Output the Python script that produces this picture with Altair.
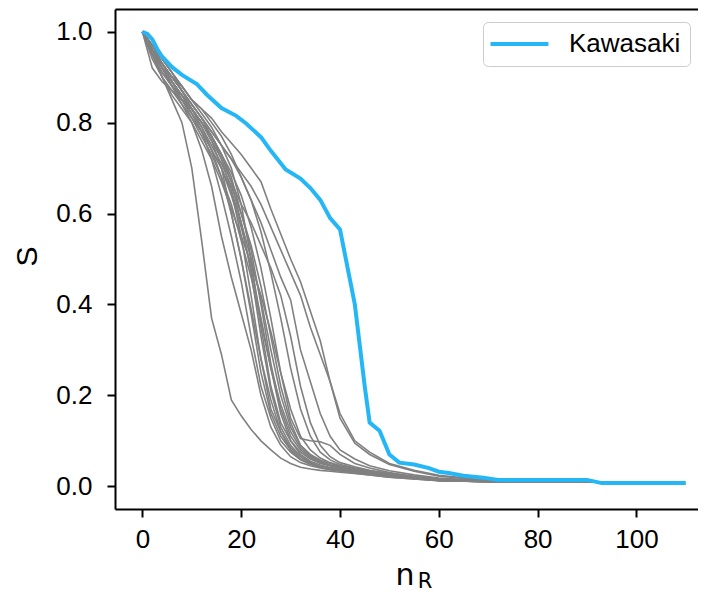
import altair as alt
import pandas as pd

# ---------------- data ----------------
KAW_X = [0, 1, 2, 3, 4, 6, 8, 11, 13, 16, 19, 21, 24, 26, 29, 32, 34, 36, 38, 40,
         42, 43, 44, 45, 46, 48, 50, 52, 55, 58, 60, 62, 65, 69, 72, 90, 93, 110]
KAW_S = [1.0, 0.995, 0.983, 0.962, 0.945, 0.922, 0.905, 0.885, 0.862, 0.832,
         0.815, 0.798, 0.768, 0.738, 0.697, 0.677, 0.656, 0.63, 0.59, 0.565,
         0.455, 0.40, 0.31, 0.22, 0.14, 0.122, 0.07, 0.052, 0.048, 0.04,
         0.032, 0.029, 0.023, 0.019, 0.014, 0.014, 0.007, 0.007]

GRID_X = [0, 2, 4, 6, 8, 10, 12, 14, 16, 18, 20, 22, 24, 26, 28, 30, 32, 34, 36, 38,
          40, 43, 46, 50, 55, 60, 70, 92]

G_A = [1.0, 0.95, 0.90, 0.85, 0.80, 0.70, 0.54, 0.37, 0.29, 0.19, 0.155, 0.125, 0.10, 0.08,
       0.062, 0.05, 0.042, 0.038, 0.035, 0.033, 0.031, 0.028, 0.025, 0.02, 0.016, 0.012, 0.01, 0.009]
G_B = [1.0, 0.96, 0.92, 0.88, 0.84, 0.80, 0.74, 0.66, 0.55, 0.46, 0.38, 0.30, 0.20, 0.13,
       0.09, 0.065, 0.052, 0.045, 0.04, 0.036, 0.033, 0.029, 0.025, 0.02, 0.016, 0.012, 0.01, 0.009]
G_C = [1.0, 0.97, 0.93, 0.89, 0.85, 0.82, 0.78, 0.72, 0.64, 0.55, 0.45, 0.33, 0.22, 0.15,
       0.10, 0.075, 0.058, 0.048, 0.042, 0.038, 0.035, 0.031, 0.027, 0.022, 0.017, 0.013, 0.01, 0.009]
G_D = [1.0, 0.95, 0.91, 0.88, 0.86, 0.83, 0.80, 0.76, 0.70, 0.60, 0.50, 0.38, 0.25, 0.16,
       0.11, 0.08, 0.06, 0.05, 0.044, 0.04, 0.036, 0.032, 0.028, 0.023, 0.018, 0.014, 0.011, 0.009]
G_E = [1.0, 0.96, 0.93, 0.90, 0.87, 0.84, 0.81, 0.77, 0.72, 0.65, 0.55, 0.42, 0.28, 0.17,
       0.12, 0.085, 0.065, 0.052, 0.045, 0.04, 0.037, 0.033, 0.029, 0.024, 0.019, 0.014, 0.011, 0.009]
G_F = [1.0, 0.97, 0.94, 0.91, 0.88, 0.85, 0.82, 0.79, 0.75, 0.70, 0.62, 0.50, 0.35, 0.22,
       0.14, 0.10, 0.075, 0.06, 0.05, 0.045, 0.04, 0.035, 0.03, 0.025, 0.019, 0.014, 0.011, 0.009]
G_G = [1.0, 0.96, 0.92, 0.89, 0.86, 0.83, 0.80, 0.77, 0.73, 0.68, 0.60, 0.52, 0.40, 0.27,
       0.17, 0.11, 0.08, 0.062, 0.052, 0.046, 0.041, 0.036, 0.031, 0.026, 0.02, 0.015, 0.011, 0.009]
G_H = [1.0, 0.95, 0.91, 0.88, 0.85, 0.82, 0.79, 0.75, 0.71, 0.66, 0.60, 0.53, 0.44, 0.33,
       0.22, 0.14, 0.09, 0.068, 0.055, 0.047, 0.042, 0.037, 0.032, 0.026, 0.02, 0.015, 0.011, 0.009]
G_I = [1.0, 0.97, 0.93, 0.90, 0.87, 0.84, 0.81, 0.78, 0.75, 0.72, 0.68, 0.63, 0.56, 0.47,
       0.37, 0.26, 0.17, 0.11, 0.075, 0.058, 0.048, 0.04, 0.034, 0.027, 0.021, 0.016, 0.012, 0.009]
G_J = [1.0, 0.96, 0.92, 0.88, 0.85, 0.81, 0.77, 0.73, 0.68, 0.62, 0.54, 0.46, 0.36, 0.26,
       0.18, 0.12, 0.085, 0.065, 0.053, 0.046, 0.041, 0.036, 0.031, 0.025, 0.019, 0.014, 0.011, 0.009]
G_K = [1.0, 0.96, 0.93, 0.90, 0.88, 0.85, 0.83, 0.80, 0.77, 0.73, 0.68, 0.63, 0.58, 0.52,
       0.46, 0.41, 0.30, 0.23, 0.16, 0.11, 0.08, 0.06, 0.045, 0.034, 0.025, 0.018, 0.012, 0.009]
G_L = [1.0, 0.95, 0.90, 0.86, 0.83, 0.80, 0.76, 0.72, 0.67, 0.61, 0.55, 0.49, 0.42, 0.34,
       0.25, 0.17, 0.11, 0.08, 0.062, 0.052, 0.045, 0.039, 0.033, 0.027, 0.021, 0.015, 0.011, 0.009]
G_M = [1.0, 0.97, 0.94, 0.91, 0.88, 0.85, 0.83, 0.81, 0.78, 0.755, 0.73, 0.70, 0.67, 0.61,
       0.555, 0.50, 0.45, 0.385, 0.32, 0.23, 0.15, 0.095, 0.07, 0.048, 0.033, 0.022, 0.013, 0.01]
G_N = [1.0, 0.96, 0.93, 0.90, 0.87, 0.84, 0.81, 0.78, 0.75, 0.72, 0.69, 0.66, 0.62, 0.57,
       0.52, 0.47, 0.42, 0.35, 0.29, 0.23, 0.16, 0.10, 0.075, 0.05, 0.035, 0.024, 0.013, 0.01]
G_O = [1.0, 0.96, 0.92, 0.89, 0.86, 0.83, 0.80, 0.77, 0.73, 0.69, 0.64, 0.57, 0.48, 0.37,
       0.25, 0.15, 0.105, 0.10, 0.098, 0.09, 0.07, 0.05, 0.04, 0.03, 0.022, 0.016, 0.012, 0.009]
G_P = [1.0, 0.94, 0.90, 0.87, 0.84, 0.81, 0.78, 0.74, 0.70, 0.64, 0.57, 0.48, 0.37, 0.26,
       0.16, 0.10, 0.07, 0.055, 0.046, 0.04, 0.036, 0.032, 0.028, 0.023, 0.018, 0.013, 0.01, 0.009]
G_Q = [1.0, 0.92, 0.89, 0.87, 0.85, 0.83, 0.80, 0.77, 0.73, 0.67, 0.58, 0.47, 0.33, 0.21,
       0.13, 0.09, 0.066, 0.053, 0.046, 0.041, 0.037, 0.033, 0.029, 0.023, 0.018, 0.013, 0.01, 0.009]
G_R = [1.0, 0.97, 0.94, 0.91, 0.87, 0.83, 0.79, 0.74, 0.68, 0.60, 0.50, 0.39, 0.28, 0.19,
       0.12, 0.08, 0.06, 0.05, 0.044, 0.04, 0.036, 0.032, 0.028, 0.022, 0.017, 0.013, 0.01, 0.009]
G_S = [1.0, 0.96, 0.92, 0.89, 0.86, 0.83, 0.80, 0.76, 0.72, 0.67, 0.62, 0.58, 0.53, 0.48,
       0.42, 0.33, 0.22, 0.14, 0.09, 0.065, 0.052, 0.043, 0.035, 0.028, 0.021, 0.015, 0.011, 0.009]
G_T = [1.0, 0.95, 0.92, 0.89, 0.86, 0.82, 0.78, 0.74, 0.70, 0.65, 0.58, 0.50, 0.41, 0.30,
       0.20, 0.13, 0.09, 0.07, 0.058, 0.05, 0.044, 0.038, 0.032, 0.026, 0.02, 0.015, 0.011, 0.009]

GRAY_CURVES = [G_A, G_B, G_C, G_D, G_E, G_F, G_G, G_H, G_I, G_J,
               G_K, G_L, G_M, G_N, G_O, G_P, G_Q, G_R, G_S, G_T]

X_TICKS = [0, 20, 40, 60, 80, 100]
Y_TICKS = [0.0, 0.2, 0.4, 0.6, 0.8, 1.0]

BLUE = "#25b6f6"
GRAY = "#808080"
FONT = "Liberation Sans"

# ---------------- tables ----------------
rows = []
for i, curve in enumerate(GRAY_CURVES):
    for x, s in zip(GRID_X, curve):
        rows.append({"x": x, "S": s, "curve": f"g{i}"})
gray_df = pd.DataFrame(rows)
kaw_df = pd.DataFrame({"x": KAW_X, "S": KAW_S, "series": "Kawasaki"})

W, H = 583, 500
xscale = alt.Scale(domain=[-5.55, 112.47], nice=False, zero=False)
yscale = alt.Scale(domain=[-0.05, 1.05], nice=False, zero=False)

xaxis = alt.Axis(values=X_TICKS, format="d", title="n", grid=False,
                 titleFont="DejaVu Sans", titleFontSize=30, titleFontWeight="normal",
                 titleX=289.5, titleY=75, titleAlign="center", titleBaseline="alphabetic",
                 labelPadding=9)
yaxis = alt.Axis(values=Y_TICKS, format=".1f", title="S", grid=False,
                 titleFont=FONT, titleFontSize=30, titleFontWeight="normal",
                 titleX=-79, titleY=247, titleAlign="center", titleBaseline="alphabetic",
                 titleAngle=270, labelPadding=15)

gray = alt.Chart(gray_df).mark_line(strokeWidth=1.6, color=GRAY).encode(
    x=alt.X("x:Q", scale=xscale, axis=xaxis),
    y=alt.Y("S:Q", scale=yscale, axis=yaxis),
    detail="curve:N",
)

blue = alt.Chart(kaw_df).mark_line(strokeWidth=4).encode(
    x=alt.X("x:Q", scale=xscale,
            axis=alt.Axis(orient="top", labels=False, ticks=False, title=None,
                          grid=False, domainColor="black", domainWidth=2)),
    y=alt.Y("S:Q", scale=yscale),
    color=alt.Color("series:N",
                    scale=alt.Scale(domain=["Kawasaki"], range=[BLUE]),
                    legend=alt.Legend(title=None, orient="none", legendX=368, legendY=13,
                                      symbolType="M-2.5,0L7.5,0", symbolSize=134,
                                      symbolStrokeWidth=4, symbolFillColor="transparent",
                                      labelFontSize=26, labelFont=FONT, labelOffset=51,
                                      padding=9, strokeColor="#cccccc",
                                      cornerRadius=5, fillColor="white",
                                      labelColor="black")),
)

sub = alt.Chart(pd.DataFrame({"t": ["R"]})).mark_text(
    font="DejaVu Sans", fontSize=21, align="left", baseline="alphabetic", color="black"
).encode(x=alt.value(302.7), y=alt.value(578.5), text="t:N")

chart = (
    alt.layer(gray, blue, sub)
    .resolve_axis(x="independent")
    .properties(width=W, height=H, autosize=alt.AutoSizeParams(type="none"),
                padding={"left": 107, "top": 1, "right": 0, "bottom": 83},
                background="white")
    .configure_view(stroke=None)
    .configure_axis(domainColor="black", domainWidth=2, tickColor="black", tickWidth=2,
                    tickSize=8, labelFont=FONT, labelFontSize=26, labelColor="black",
                    titleColor="black")
)

chart.save("out.html", embed_options={"renderer": "svg", "actions": False})
